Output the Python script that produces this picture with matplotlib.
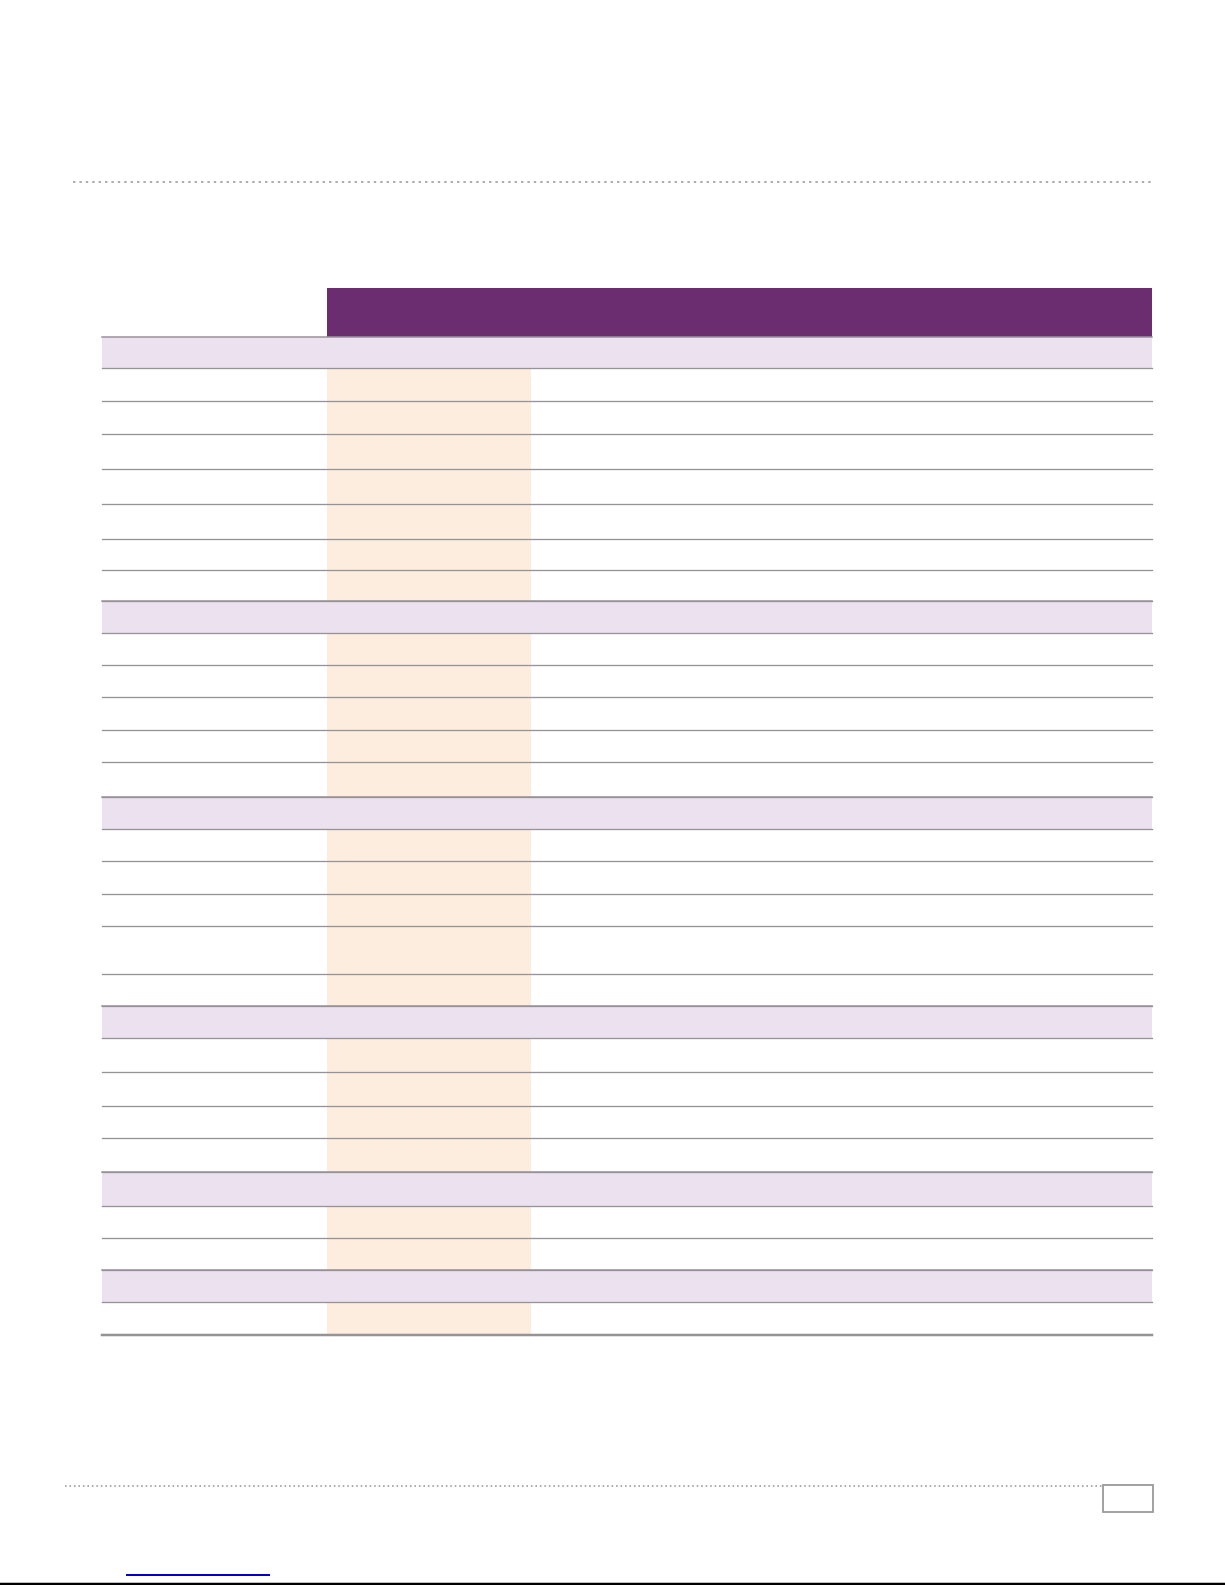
import matplotlib
matplotlib.use("Agg")
import matplotlib.pyplot as plt
from matplotlib.patches import Rectangle

# table structure (page pixels); the cells hold no text
section_edges = [(337, 368), (601, 633), (797, 829), (1006, 1038), (1172, 1206), (1270, 1302)]
row_lines = [368, 401, 434, 469, 504, 539, 570, 601,
             633, 665, 697, 730, 762, 797,
             829, 861, 894, 926, 974, 1006,
             1038, 1072, 1106, 1138, 1172,
             1206, 1238, 1270,
             1302]
table_bottom = 1335

W, H = 1225, 1585
PX = 72 / 100  # one pixel in points

fig = plt.figure(figsize=(W / 100, H / 100), dpi=100)
ax = fig.add_axes([0, 0, 1, 1])
ax.set_xlim(0, W)
ax.set_ylim(H, 0)
ax.axis('off')

purple = '#6b2d6f'
lavender = '#ece1ee'
peach = '#fdedde'
rule = '#959395'

left, col1, col2, right = 102, 327, 531, 1152

# dotted page rules
ax.plot([73, right], [182, 182], color='#999999', lw=1.6 * PX, ls=(0, (1.5, 2.5)))
ax.plot([65, 1103], [1486, 1486], color='#999999', lw=1.6 * PX, ls=(0, (1.0, 1.8)))

# header band
ax.add_patch(Rectangle((col1, 288), right - col1, 337 - 288, color=purple, lw=0))

# peach column behind data rows
ax.add_patch(Rectangle((col1, 368), col2 - col1, table_bottom - 368, color=peach, lw=0))

# section bands
for top, bot in section_edges:
    ax.add_patch(Rectangle((left, top), right - left, bot - top, color=lavender, lw=0))
    ax.plot([left, right], [top, top], color='#9a909c', lw=1.5 * PX)

for y in row_lines:
    ax.plot([left, right], [y, y], color=rule, lw=1.3 * PX)
ax.plot([left, right], [table_bottom, table_bottom], color=rule, lw=2.5 * PX)

# page number box
ax.add_patch(Rectangle((1103, 1485), 50, 27, fill=False, edgecolor='#999999', lw=1.8 * PX))

# link underline and page edge
ax.plot([127, 269], [1575, 1575], color='#0000cc', lw=2 * PX)
ax.plot([0, W], [1584, 1584], color='black', lw=2.5 * PX)

fig.savefig('out.png', dpi=100)
